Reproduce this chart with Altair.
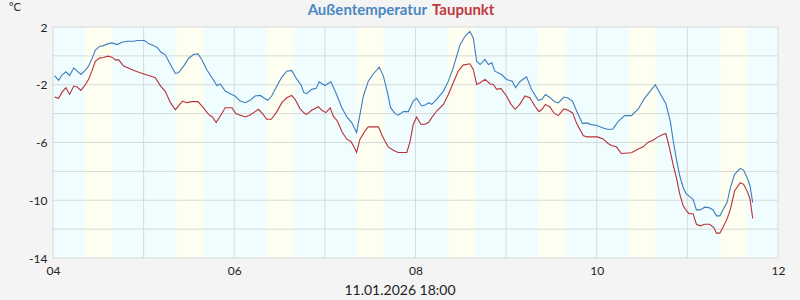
import altair as alt
import pandas as pd

# ---- data (hours since 04.01.2026 00:00, °C) ----
temp_hours = [0.4, 1.5, 2.4, 3.4, 4.4, 5.5, 6.4, 7.4, 8.6, 9.4, 10.3, 11.2, 12.4, 13.4, 14.5, 15.6, 17.0, 18.3, 19.6, 21.4,
              22.2, 24.2, 25.3, 26.7, 27.7, 28.6, 29.7, 31.1, 32.4, 33.2, 34.6, 35.9, 37.2, 38.4, 39.4, 40.7, 42.1, 43.4, 44.3, 45.6,
              46.9, 48.2, 49.6, 50.9, 52.2, 53.5, 54.9, 56.0, 56.9, 57.9, 59.3, 60.6, 61.9, 63.2, 64.6, 65.7, 66.4, 67.2, 68.5, 69.7,
              70.5, 72.0, 73.6, 75.1, 76.5, 77.8, 79.1, 80.4, 81.3, 82.2, 83.5, 84.7, 86.4, 87.5, 88.5, 89.4, 90.6, 91.4, 92.8, 94.1,
              95.4, 96.3, 97.6, 98.6, 99.5, 100.3, 101.6, 103.4, 104.7, 106.0, 106.9, 107.8, 109.1, 110.4, 111.3, 112.2, 113.1, 114.4, 115.3, 116.2,
              117.0, 118.8, 120.1, 121.6, 122.5, 123.6, 125.4, 126.7, 128.5, 129.5, 130.4, 131.6, 132.7, 133.8, 135.3, 136.4, 137.6, 138.7, 140.2, 141.3,
              142.6, 143.9, 145.7, 147.0, 148.3, 149.7, 151.4, 153.2, 155.0, 156.7, 158.1, 159.5, 160.7, 162.3, 163.5, 164.2, 165.1, 166.0, 166.9, 167.6,
              168.6, 169.5, 170.4, 171.4, 172.6, 173.7, 174.8, 175.7, 176.6, 177.4, 178.5, 179.4, 180.5, 182.0, 182.9, 184.0, 184.6, 185.3]
temp_values = [-1.37, -1.70, -1.33, -1.10, -1.36, -0.83, -1.06, -1.29, -0.99, -0.71, -0.21, 0.39, 0.67, 0.71, 0.83, 0.90, 0.78, 0.94, 1.01, 1.01,
               1.06, 1.06, 0.85, 0.71, 0.55, 0.25, 0.09, -0.60, -1.22, -1.17, -0.71, -0.18, 0.09, 0.14, -0.25, -0.94, -1.52, -2.05, -1.94, -2.44,
               -2.62, -2.78, -3.13, -3.24, -3.08, -2.78, -2.74, -2.94, -3.08, -2.78, -2.09, -1.47, -1.06, -1.01, -1.63, -2.02, -2.53, -2.62, -2.32, -2.25,
               -1.79, -2.05, -1.79, -2.67, -3.59, -4.23, -4.62, -5.31, -4.05, -2.78, -1.75, -1.29, -0.78, -1.40, -2.44, -3.59, -4.00, -4.11, -3.86, -3.86,
               -3.13, -2.94, -3.47, -3.40, -3.24, -3.36, -3.01, -2.44, -1.75, -0.83, -0.02, 0.78, 1.36, 1.70, 1.24, -0.37, -0.60, -0.25, -0.60, -0.48,
               -1.06, -1.29, -1.63, -1.75, -2.21, -1.79, -1.45, -2.32, -3.08, -3.01, -2.67, -2.88, -3.16, -3.26, -2.85, -2.92, -3.15, -3.84, -4.69, -4.64,
               -4.76, -4.80, -4.99, -5.10, -5.06, -4.53, -4.14, -4.14, -3.68, -2.92, -2.46, -2.00, -2.57, -3.31, -4.55, -5.79, -7.17, -8.32, -9.13, -9.52,
               -9.75, -9.93, -10.67, -10.67, -10.48, -10.51, -10.67, -11.08, -11.08, -10.67, -10.16, -9.13, -8.21, -7.79, -7.91, -8.55, -9.01, -10.16]

dew_hours = [0.4, 1.5, 2.4, 3.4, 4.4, 5.5, 6.4, 7.4, 8.6, 9.4, 10.3, 11.2, 12.4, 13.4, 14.5, 15.6, 16.5, 17.4, 18.7, 19.8,
             21.4, 23.1, 24.5, 25.8, 27.1, 28.5, 29.7, 31.1, 32.4, 33.3, 34.3, 35.4, 36.8, 38.4, 39.8, 41.2, 42.2, 43.2, 44.3, 45.6,
             47.4, 48.4, 49.6, 50.9, 52.2, 53.5, 54.4, 55.5, 56.6, 57.8, 59.3, 60.6, 61.9, 63.2, 64.1, 65.4, 66.5, 67.2, 68.5, 70.3,
             71.2, 72.3, 73.4, 74.2, 75.3, 76.5, 77.8, 78.9, 79.7, 80.4, 81.3, 82.6, 83.5, 86.2, 87.0, 87.9, 88.8, 90.1, 91.4, 93.7,
             94.5, 95.4, 96.3, 97.4, 98.5, 99.5, 100.3, 101.6, 103.4, 104.7, 106.0, 107.3, 108.6, 110.4, 111.3, 112.2, 113.1, 114.4, 115.7, 116.6,
             117.5, 118.6, 120.1, 121.3, 122.4, 123.6, 125.0, 126.3, 127.6, 128.7, 129.5, 130.4, 131.6, 132.7, 133.8, 135.3, 136.4, 137.6, 138.7, 140.4,
             141.3, 142.9, 144.2, 145.7, 147.0, 147.9, 149.2, 150.5, 153.2, 154.7, 156.3, 157.6, 158.9, 160.2, 161.5, 162.3, 163.2, 164.2, 165.1, 166.0,
             166.9, 167.8, 168.4, 169.5, 170.4, 171.4, 172.6, 173.9, 175.0, 175.7, 176.6, 177.4, 178.5, 179.4, 180.5, 182.0, 182.9, 184.0, 184.6, 185.3]
dew_values = [-2.85, -2.94, -2.51, -2.21, -2.67, -2.09, -2.16, -2.39, -1.98, -1.63, -1.06, -0.37, -0.14, -0.11, -0.02, -0.09, -0.28, -0.28, -0.71, -0.83,
              -1.01, -1.17, -1.29, -1.40, -1.52, -2.09, -2.44, -3.24, -3.73, -3.45, -3.13, -3.24, -3.17, -3.17, -3.59, -4.05, -4.23, -4.62, -4.16, -3.59,
              -3.59, -4.00, -4.11, -4.23, -4.09, -3.86, -3.70, -4.00, -4.39, -4.39, -3.86, -3.24, -2.90, -2.74, -3.01, -3.65, -3.96, -4.05, -3.77, -3.52,
              -3.77, -3.93, -3.59, -4.16, -4.51, -5.24, -5.77, -5.93, -6.30, -6.69, -5.77, -5.20, -4.92, -4.92, -5.43, -5.89, -6.30, -6.53, -6.69, -6.69,
              -6.00, -4.74, -4.23, -4.74, -4.74, -4.60, -4.28, -3.82, -3.36, -2.67, -1.86, -1.06, -0.64, -0.55, -0.94, -1.98, -1.86, -1.63, -1.93, -1.98,
              -2.32, -2.25, -2.78, -3.36, -3.70, -3.36, -2.78, -2.90, -3.47, -3.86, -3.70, -3.36, -3.54, -3.97, -4.14, -3.68, -3.77, -3.95, -4.69, -5.52,
              -5.61, -5.61, -5.61, -5.75, -6.07, -6.21, -6.30, -6.76, -6.71, -6.48, -6.30, -5.98, -5.84, -5.61, -5.45, -5.38, -6.30, -7.50, -8.45, -9.59,
              -10.39, -10.74, -10.93, -10.93, -11.66, -11.77, -11.66, -11.66, -11.89, -12.28, -12.28, -11.89, -11.31, -10.62, -9.36, -8.78, -8.90, -9.47, -9.93, -11.26]

band_days = [4, 5, 6, 7, 8, 9, 10, 11]
band_start_hour = 8.0
band_end_hour = 16.35

x_grid = [4, 5, 6, 7, 8, 9, 10, 11, 12]
x_labels = [4, 6, 8, 10, 12]
y_grid = [-14, -12, -10, -8, -6, -4, -2, 0, 2]
y_labels = [-14, -10, -6, -2, 2]

title_temp = "Außentemperatur"
title_dew = "Taupunkt"
unit_text = "°C"
footer_text = "11.01.2026 18:00"

# ---- styling ----
BLUE = "#3b7dc0"
RED = "#b8303b"
TITLE_BLUE = "#4a87c2"
TITLE_RED = "#c0393f"
CYAN = "#effdfe"
YELLOW = "#fefff0"
GRID = "#d9d9d9"
FONT = "Lato"
W, H = 725, 231

temp_df = pd.DataFrame({"day": [4 + h / 24 for h in temp_hours], "value": temp_values})
dew_df = pd.DataFrame({"day": [4 + h / 24 for h in dew_hours], "value": dew_values})
band_df = pd.DataFrame({"start": [d + band_start_hour / 24 for d in band_days],
                        "end": [d + band_end_hour / 24 for d in band_days]})
xg_df = pd.DataFrame({"x": x_grid})
yg_df = pd.DataFrame({"y": y_grid})

xscale = alt.Scale(domain=[4, 12], nice=False, zero=False)
yscale = alt.Scale(domain=[-14, 2], nice=False, zero=False)

xaxis = alt.Axis(values=x_labels, grid=False, domain=False, ticks=False, title=None,
                 labelExpr="datum.value < 10 ? '0' + datum.value : '' + datum.value",
                 labelFlush=False, labelOverlap=False, labelPadding=7,
                 labelFont=FONT, labelFontSize=12, labelColor="#222222")
yaxis = alt.Axis(values=y_labels, grid=False, domain=False, ticks=False, title=None,
                 labelExpr="'' + datum.value", labelFlush=False, labelOverlap=False,
                 labelPadding=6, labelFont=FONT, labelFontSize=12, labelColor="#222222")

grad = alt.Gradient(gradient="linear",
                    stops=[alt.GradientStop(color=CYAN, offset=0),
                           alt.GradientStop(color=YELLOW, offset=0.12),
                           alt.GradientStop(color=YELLOW, offset=0.88),
                           alt.GradientStop(color=CYAN, offset=1)],
                    x1=0, x2=1, y1=0, y2=0)

bands = alt.Chart(band_df).mark_rect(color=grad).encode(
    x=alt.X("start:Q", scale=xscale, axis=xaxis),
    x2="end:Q",
)

vgrid = alt.Chart(xg_df).mark_rule(color=GRID, strokeWidth=1).encode(
    x=alt.X("x:Q", scale=xscale))
hgrid = alt.Chart(yg_df).mark_rule(color=GRID, strokeWidth=1).encode(
    y=alt.Y("y:Q", scale=yscale, axis=yaxis))

temp_line = alt.Chart(temp_df).mark_line(color=BLUE, strokeWidth=1.1).encode(
    x=alt.X("day:Q", scale=xscale), y=alt.Y("value:Q", scale=yscale))
dew_line = alt.Chart(dew_df).mark_line(color=RED, strokeWidth=1.1).encode(
    x=alt.X("day:Q", scale=xscale), y=alt.Y("value:Q", scale=yscale))

t1 = alt.Chart(pd.DataFrame({"t": [title_temp]})).mark_text(
    font=FONT, fontSize=15, fontWeight="bold", color=TITLE_BLUE, align="right", baseline="alphabetic"
).encode(text="t:N", x=alt.value(374), y=alt.value(-12))
t2 = alt.Chart(pd.DataFrame({"t": [title_dew]})).mark_text(
    font=FONT, fontSize=15, fontWeight="bold", color=TITLE_RED, align="left", baseline="alphabetic"
).encode(text="t:N", x=alt.value(379), y=alt.value(-12))
unit = alt.Chart(pd.DataFrame({"t": [unit_text]})).mark_text(
    font=FONT, fontSize=11, color="#222222", align="left", baseline="alphabetic"
).encode(text="t:N", x=alt.value(-44), y=alt.value(-16))
footer = alt.Chart(pd.DataFrame({"t": [footer_text]})).mark_text(
    font=FONT, fontSize=14, color="#222222", align="center", baseline="alphabetic"
).encode(text="t:N", x=alt.value(347), y=alt.value(268))

chart = alt.layer(bands, vgrid, hgrid, temp_line, dew_line, t1, t2, unit, footer).properties(
    width=W, height=H,
    background="#f4f4f4",
    autosize=alt.AutoSizeParams(type="none"),
    padding={"left": 53, "top": 27, "right": 22, "bottom": 42},
).configure_view(fill=CYAN, stroke=None)

chart.save("out.html", embed_options={"renderer": "svg", "actions": False})
